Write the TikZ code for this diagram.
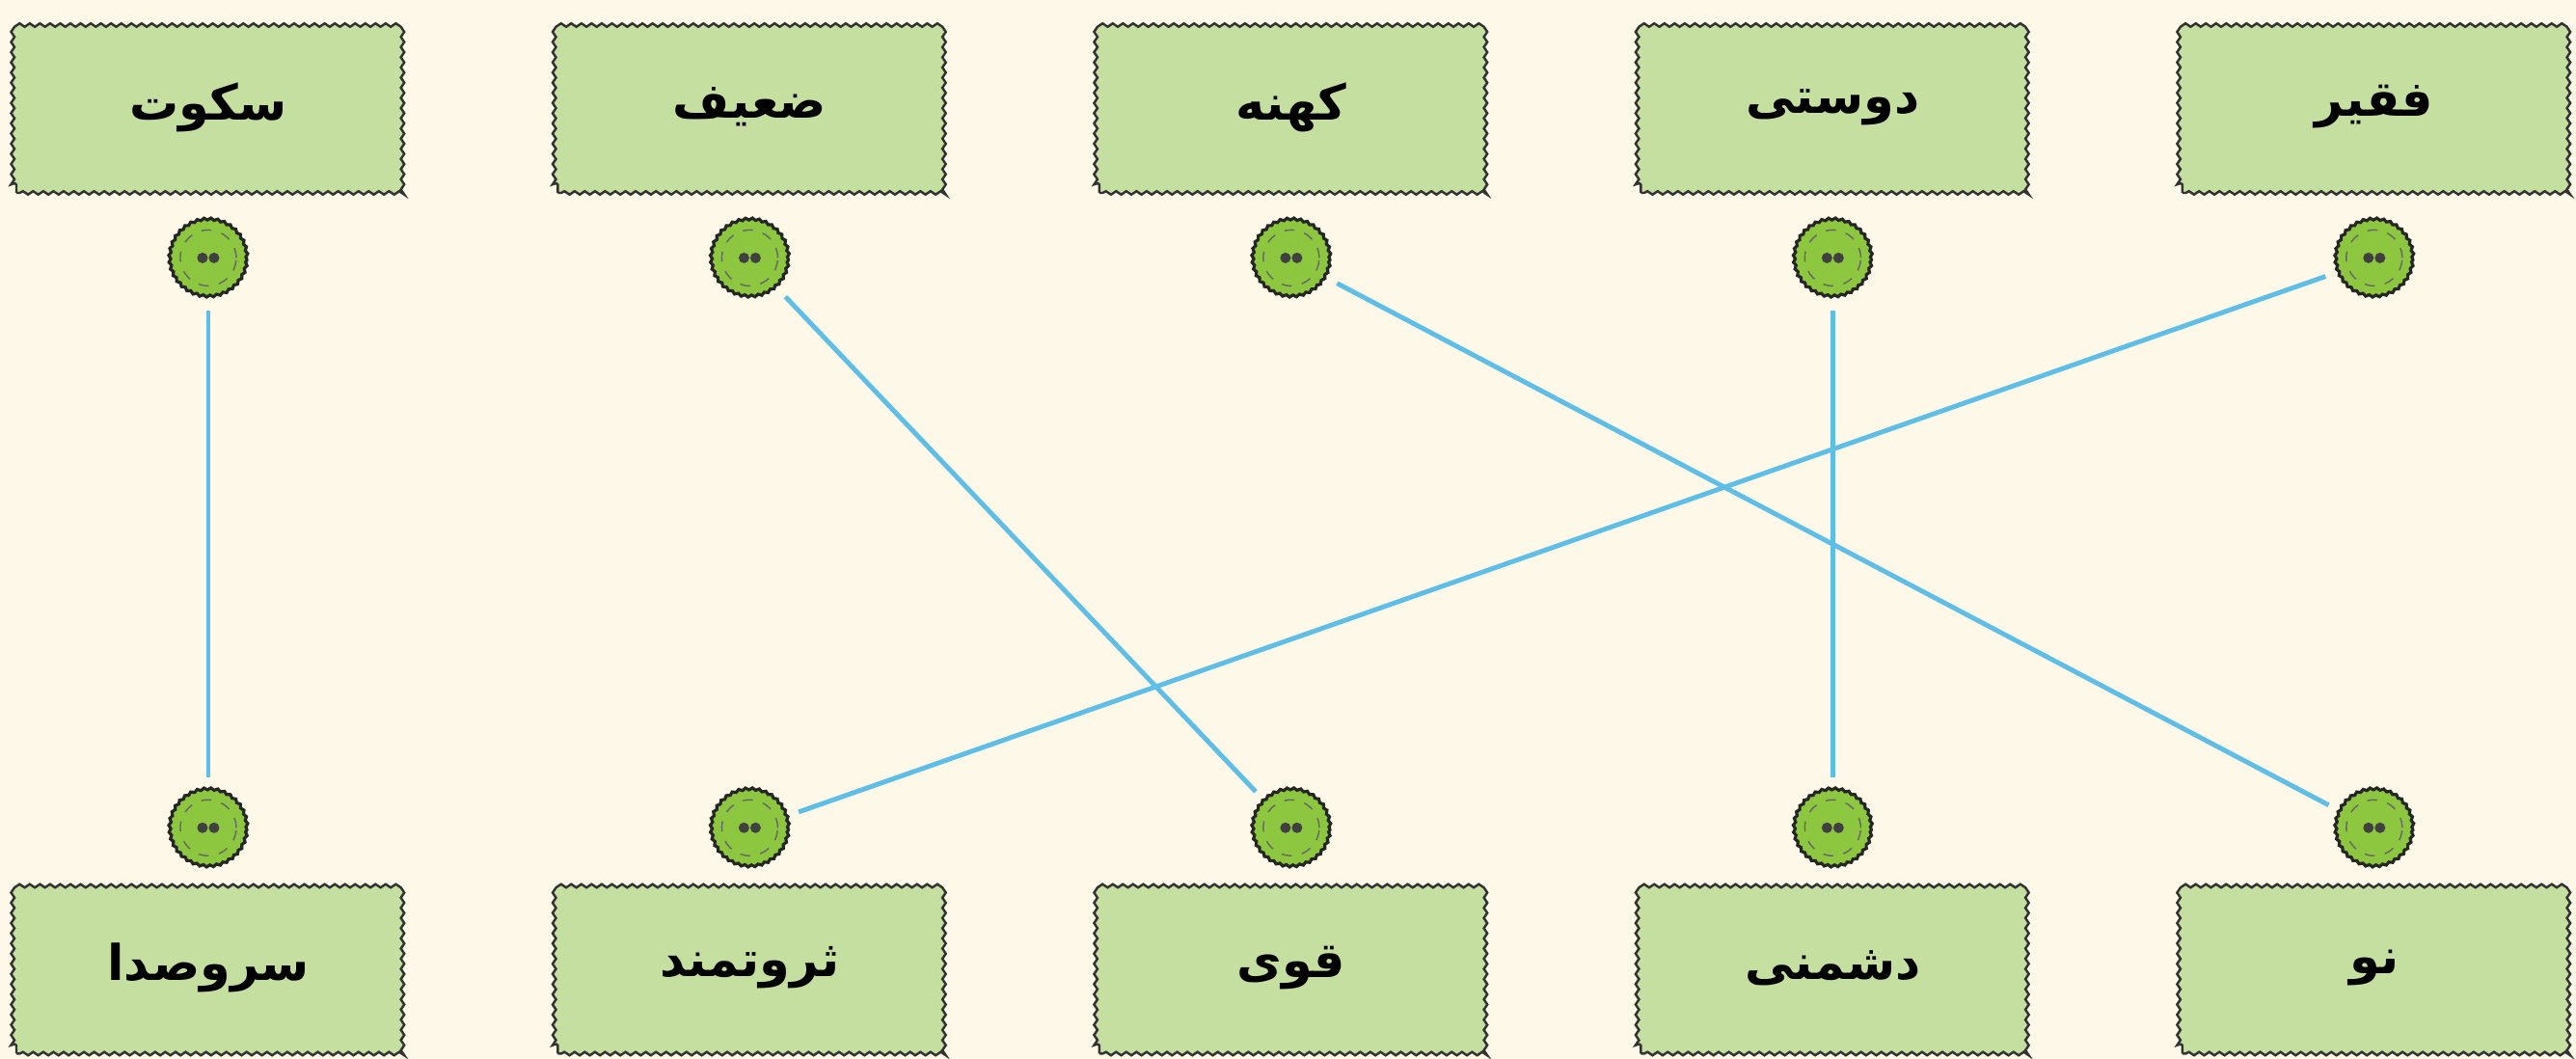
\documentclass[tikz,border=0pt]{standalone}
\usepackage{fontspec}
\usepackage{tikz}
\usetikzlibrary{positioning,decorations.pathmorphing}
\newfontfamily\arabicfont[Script=Arabic]{DejaVu Sans}
\TeXXeTstate=1
\definecolor{bgcream}{RGB}{254,248,232}
\definecolor{boxgreen}{RGB}{197,223,160}
\definecolor{btngreen}{RGB}{141,198,63}
\definecolor{linkblue}{RGB}{95,190,230}
\newcommand{\fa}[1]{\beginR #1\endR}

\begin{document}
\begin{tikzpicture}[
	wordbox/.style={draw=black!80,line width=0.7pt,fill=boxgreen,minimum width=3.98cm,minimum height=1.78cm,
		decorate,decoration={snake,amplitude=0.5pt,segment length=3pt,pre length=1pt,post length=1pt},
		font=\arabicfont\bfseries\fontsize{14.5}{18}\selectfont},
	button/.style={circle,draw=black!85,line width=0.9pt,fill=btngreen,minimum size=0.8cm,inner sep=0pt,
		decorate,decoration={snake,amplitude=0.3pt,segment length=2pt},
		path picture={
			\draw[decorate=false,dashed,black!60,line width=0.4pt] (path picture bounding box.center) circle (0.29cm);
			\fill[decorate=false,black!75] ([xshift=-0.06cm]path picture bounding box.center) circle (0.055cm)
				([xshift=0.06cm]path picture bounding box.center) circle (0.055cm);}},
	link/.style={linkblue,line width=1.4pt,shorten <=0.12cm,shorten >=0.12cm}]
		\useasboundingbox[fill=bgcream] (0,0) rectangle (26.71,-10.98);
		% top row
		\node(sokut) [wordbox] at (2.16,-1.11) {\fa{سکوت}};
		\node(zaif) [wordbox,right=1.61cm of sokut] {\fa{ضعیف}};
		\node(kohne) [wordbox,right=1.61cm of zaif] {\fa{کهنه}};
		\node(dousti) [wordbox,right=1.61cm of kohne] {\fa{دوستی}};
		\node(faghir) [wordbox,right=1.61cm of dousti] {\fa{فقیر}};
		% bottom row
		\node(sarosada) [wordbox,below=7.12cm of sokut] {\fa{سروصدا}};
		\node(servat) [wordbox,right=1.61cm of sarosada] {\fa{ثروتمند}};
		\node(ghavi) [wordbox,right=1.61cm of servat] {\fa{قوی}};
		\node(doshmani) [wordbox,right=1.61cm of ghavi] {\fa{دشمنی}};
		\node(no) [wordbox,right=1.61cm of doshmani] {\fa{نو}};
		% buttons
		\node(sokutb) [button,below=0.26cm of sokut] {};
		\node(zaifb) [button,below=0.26cm of zaif] {};
		\node(kohneb) [button,below=0.26cm of kohne] {};
		\node(doustib) [button,below=0.26cm of dousti] {};
		\node(faghirb) [button,below=0.26cm of faghir] {};
		\node(sarosadab) [button,above=0.12cm of sarosada] {};
		\node(servatb) [button,above=0.12cm of servat] {};
		\node(ghavib) [button,above=0.12cm of ghavi] {};
		\node(doshmanib) [button,above=0.12cm of doshmani] {};
		\node(nob) [button,above=0.12cm of no] {};
		\path[link]
			(sokutb) edge (sarosadab)
			(zaifb) edge (ghavib)
			(kohneb) edge (nob)
			(doustib) edge (doshmanib)
			(faghirb) edge (servatb);
	\end{tikzpicture}
\end{document}
